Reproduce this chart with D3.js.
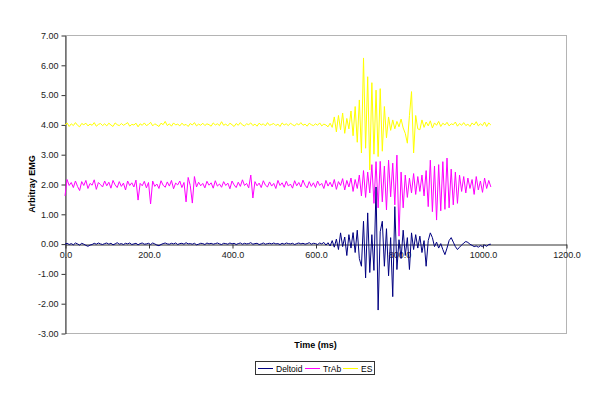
<!DOCTYPE html>
<html lang="en">

<head>
  <meta charset="utf-8">
  <title>Arbitray EMG</title>
  <script type="text/javascript" src="https://cdn.jsdelivr.net/npm/d3@7"></script>
  <style type="text/css">
    body { margin: 0; background: #fff; }
    svg { display: block; font-family: "Liberation Sans", Arial, sans-serif; }
  </style>
</head>

<body>
  <script type="text/javascript">

    // time between samples (ms)
    const sampleStep = 5;

    // Deltoid, one row = 50 ms
    const deltoid = [
      -0.02, 0.01, -0.03, 0.00, -0.04, 0.02, -0.01, -0.05, 0.01, -0.02,
      -0.06, -0.09, -0.05, -0.03, 0.01, -0.02, 0.02, -0.01, -0.03, 0.00,
      0.02, -0.02, 0.01, -0.04, -0.01, 0.03, -0.02, 0.00, -0.03, 0.01,
      -0.01, 0.02, -0.03, -0.01, 0.01, -0.04, 0.00, 0.02, -0.02, -0.01,
      0.01, -0.03, 0.02, -0.01, -0.05, -0.07, -0.03, 0.00, 0.02, -0.01,
      -0.02, 0.01, -0.01, 0.02, -0.03, 0.00, 0.01, -0.02, 0.03, -0.01,
      0.00, -0.02, 0.01, -0.04, -0.02, 0.01, 0.00, -0.03, 0.02, -0.01,
      0.01, -0.02, 0.00, 0.02, -0.01, -0.03, 0.01, 0.00, -0.02, 0.02,
      -0.01, 0.01, -0.03, 0.00, 0.02, -0.02, 0.01, -0.01, 0.00, 0.03,
      -0.02, 0.00, 0.01, -0.03, -0.01, 0.02, -0.02, 0.00, 0.01, -0.01,
      0.02, -0.01, 0.00, -0.03, 0.01, -0.02, 0.02, 0.00, -0.01, 0.01,
      -0.03, 0.00, 0.02, -0.01, 0.01, -0.02, 0.00, 0.03, -0.02, 0.01,
      0.00, -0.03, 0.02, -0.01, 0.04, -0.05, 0.03, -0.08, 0.10, -0.12,
      0.15, -0.20, 0.36, -0.10, 0.22, -0.40, 0.30, -0.15, 0.37, -0.30,
      0.45, -0.50, -0.76, 0.75, -1.15, 1.03, -0.97, 0.30, -0.90, 1.90,
      -2.23, 0.40, 0.75, -0.76, 0.50, -1.08, 0.20, -1.78, 1.24, -0.87,
      0.13, -0.50, 0.45, -0.40, 0.20, -0.87, 0.36, -0.20, 0.30, -0.15,
      0.25, -0.30, 0.10, -0.76, 0.10, 0.36, 0.20, -0.10, 0.05, -0.15,
      0.00, -0.20, -0.37, -0.15, 0.10, 0.20, 0.05, -0.10, -0.20, -0.12,
      -0.05, 0.02, 0.07, 0.04, -0.02, -0.06, -0.10, -0.08, -0.12, -0.07,
      -0.10, -0.05, -0.09, -0.03, -0.02
    ];

    // TrAb
    const trab = [
      1.60, 2.15, 1.95, 2.05, 1.88, 2.10, 1.92, 1.78, 2.08, 1.95,
      2.12, 1.85, 2.02, 1.96, 2.14, 1.82, 2.05, 1.98, 1.90, 2.10,
      1.94, 2.06, 1.86, 2.12, 1.97, 1.88, 2.08, 1.92, 2.03, 1.80,
      2.10, 1.95, 2.04, 1.90, 2.13, 1.46, 2.02, 1.94, 2.09, 1.87,
      2.05, 1.33, 2.10, 1.92, 2.00, 1.85, 2.11, 1.96, 1.89, 2.07,
      1.93, 2.12, 1.84, 2.03, 1.97, 2.10, 1.88, 2.05, 1.40, 2.22,
      1.95, 1.36, 2.25, 1.90, 2.06, 1.94, 2.02, 1.87, 2.09, 1.96,
      2.04, 1.86, 2.11, 1.93, 2.00, 1.89, 2.08, 1.95, 2.03, 1.84,
      2.10, 1.97, 1.88, 2.06, 1.92, 2.14, 1.95, 2.02, 1.87, 2.30,
      1.53, 2.08, 1.94, 2.03, 1.88, 2.11, 1.96, 1.90, 2.07, 1.93,
      2.02, 1.85, 2.12, 1.95, 2.04, 1.89, 2.09, 1.93, 2.00, 1.86,
      2.11, 1.94, 2.05, 1.90, 2.13, 1.96, 1.87, 2.08, 1.92, 2.04,
      1.88, 2.10, 1.95, 2.02, 1.85, 2.12, 1.93, 2.06, 1.90, 2.15,
      1.82, 2.08, 1.95, 2.18, 1.80, 2.12, 1.90, 2.20, 1.75, 2.15,
      1.85, 2.30, 1.60, 2.45, 1.55, 2.40, 1.70, 2.65, 1.35, 2.75,
      1.20, 2.76, 1.40, 2.60, 1.13, 2.80, 1.57, 2.70, 1.30, 2.97,
      0.25, 2.40, 1.20, 2.30, 1.55, 2.20, 1.70, 2.35, 1.65, 2.25,
      1.75, 2.30, 1.60, 2.45, 1.24, 2.80, 1.07, 2.60, 0.79, 2.65,
      1.10, 2.75, 1.15, 2.87, 1.20, 2.50, 1.30, 2.40, 1.35, 2.30,
      1.75, 2.25, 1.70, 2.20, 1.85, 2.15, 1.65, 2.25, 1.80, 2.10,
      1.72, 2.20, 1.85, 2.12, 1.90
    ];

    // ES
    const es = [
      3.98, 4.05, 3.93, 4.02, 3.96, 4.06, 3.97, 3.92, 4.03, 3.99,
      4.04, 3.95, 4.01, 3.97, 4.06, 3.94, 4.00, 4.03, 3.96, 4.02,
      3.95, 4.04, 3.98, 3.93, 4.05, 3.99, 3.96, 4.03, 3.97, 4.01,
      4.06, 3.94, 4.00, 3.98, 4.04, 3.92, 4.02, 3.97, 4.05, 3.96,
      4.00, 4.07, 3.95, 4.02, 3.98, 3.93, 4.04, 3.99, 4.10, 3.96,
      4.02, 3.94, 4.05, 3.98, 4.01, 3.95, 4.04, 3.97, 4.00, 3.93,
      4.03, 3.98, 4.06, 3.95, 4.01, 3.97, 4.04, 3.96, 4.02, 3.99,
      3.94, 4.05, 3.98, 4.02, 3.96, 4.09, 3.97, 4.01, 3.95, 4.04,
      3.99, 3.93, 4.03, 3.97, 4.06, 3.98, 3.95, 4.02, 3.99, 4.05,
      3.96, 4.01, 3.94, 4.04, 3.98, 4.02, 3.95, 4.06, 3.97, 4.00,
      4.03, 3.96, 4.01, 3.93, 4.05, 3.98, 4.02, 3.96, 4.04, 3.99,
      3.95, 4.03, 3.98, 4.06, 3.97, 4.01, 3.94, 4.04, 3.99, 3.96,
      4.02, 3.97, 4.05, 3.95, 4.01, 3.98, 3.92, 4.04, 3.90, 4.25,
      3.75, 4.30, 3.82, 4.38, 3.70, 4.20, 3.85, 4.45, 3.62, 4.60,
      3.40, 4.82, 3.04, 6.23, 3.20, 5.60, 2.47, 5.40, 3.00, 5.15,
      2.92, 5.20, 3.10, 4.60, 3.55, 4.25, 3.80, 4.15, 3.85, 4.10,
      3.92, 4.18, 3.88, 3.70, 3.37, 4.30, 5.10, 3.04, 4.30, 3.85,
      3.82, 4.15, 3.90, 4.08, 3.95, 4.12, 3.88, 4.05, 3.97, 4.10,
      3.93, 4.04, 3.98, 4.07, 3.95, 4.02, 3.99, 4.08, 3.94, 4.03,
      3.97, 4.06, 3.96, 4.01, 3.93, 4.05, 3.98, 4.09, 3.95, 4.02,
      3.96, 4.08, 3.93, 4.05, 3.98
    ];

    const seriesNames = ["Deltoid", "TrAb", "ES"];
    const seriesColors = ["#000080", "#ff00ff", "#ffff00"];
    const xTicks = [0, 200, 400, 600, 800, 1000, 1200];
    const yTicks = [-3, -2, -1, 0, 1, 2, 3, 4, 5, 6, 7];

    const w = 600;
    const h = 400;
    const plotLeft = 65, plotRight = 566, plotTop = 35, plotBottom = 333;

    const svg = d3.select("body")
      .append("svg")
      .attr("width", w)
      .attr("height", h);

    const x = d3.scaleLinear().domain([0, 1200]).range([plotLeft, plotRight]);
    const y = d3.scaleLinear().domain([-3, 7]).range([plotBottom, plotTop]);

    // plot area border
    svg.append("rect")
      .attr("x", plotLeft + 0.5)
      .attr("y", plotTop + 0.5)
      .attr("width", plotRight - plotLeft)
      .attr("height", plotBottom - plotTop)
      .attr("fill", "none")
      .attr("stroke", "#b4b4b4");

    // y axis
    svg.append("g")
      .attr("transform", "translate(" + (plotLeft + 0.5) + ",0.5)")
      .call(d3.axisLeft(y).tickValues(yTicks)
        .tickFormat(function (d) { return d.toFixed(2); })
        .tickSize(4).tickSizeOuter(0));

    // x axis sits at zero
    svg.append("g")
      .attr("transform", "translate(0.5," + (Math.round(y(0)) + 0.5) + ")")
      .call(d3.axisBottom(x).tickValues(xTicks)
        .tickFormat(function (d) { return d.toFixed(1); })
        .tickSize(4).tickSizeOuter(0));

    svg.selectAll(".domain, .tick line").attr("stroke", "#333");
    svg.selectAll(".tick text")
      .attr("fill", "#222")
      .style("font-size", "9px")
      .style("font-family", "'Liberation Sans', Arial, sans-serif");

    // axis titles
    svg.append("text")
      .attr("transform", "translate(35," + ((plotTop + plotBottom) / 2) + ") rotate(-90)")
      .attr("text-anchor", "middle")
      .style("font-size", "9px")
      .style("font-weight", "bold")
      .text("Arbitray EMG");

    svg.append("text")
      .attr("x", (plotLeft + plotRight) / 2)
      .attr("y", 348)
      .attr("text-anchor", "middle")
      .style("font-size", "9px")
      .style("font-weight", "bold")
      .text("Time (ms)");

    // the three lines, Deltoid last so it sits on top
    const line = d3.line()
      .x(function (d, i) { return x(i * sampleStep); })
      .y(function (d) { return y(d); });

    const allSeries = [deltoid, trab, es];
    [2, 1, 0].forEach(function (k) {
      svg.append("path")
        .datum(allSeries[k])
        .attr("fill", "none")
        .attr("stroke", seriesColors[k])
        .attr("stroke-width", 1)
        .attr("d", line);
    });

    // legend
    const legend = svg.append("g");
    legend.append("rect")
      .attr("x", 255.5)
      .attr("y", 361.5)
      .attr("width", 119)
      .attr("height", 13)
      .attr("fill", "#fff")
      .attr("stroke", "#333");

    const legendX = [258, 305, 343];
    seriesNames.forEach(function (name, i) {
      legend.append("line")
        .attr("x1", legendX[i])
        .attr("x2", legendX[i] + 15)
        .attr("y1", 368.5)
        .attr("y2", 368.5)
        .attr("stroke", seriesColors[i]);
      legend.append("text")
        .attr("x", legendX[i] + 18)
        .attr("y", 371.5)
        .style("font-size", "8.5px")
        .text(name);
    });

  </script>
</body>

</html>
